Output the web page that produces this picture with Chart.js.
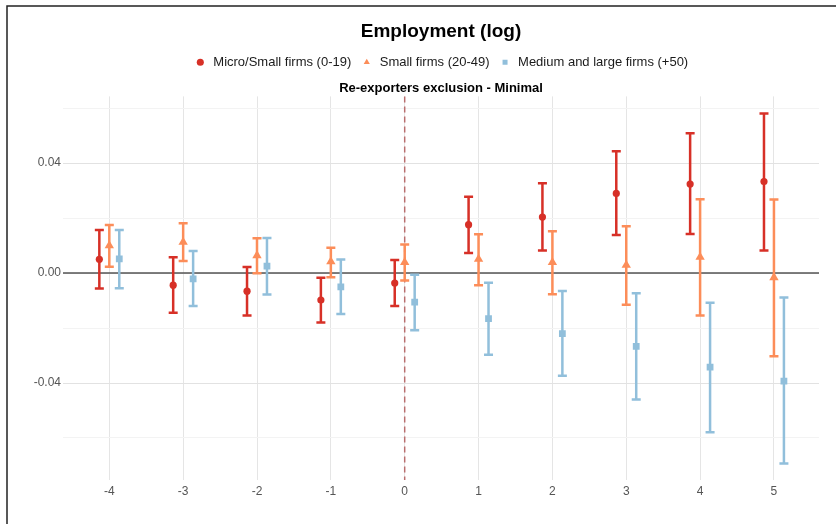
<!DOCTYPE html>
<html>
<head>
<meta charset="utf-8">
<title>Employment (log)</title>
<script src="https://cdn.jsdelivr.net/npm/chart.js@4.4.1/dist/chart.umd.min.js"></script>
<style>
  body { margin: 0; background: #fff; }
</style>
</head>
<body>
<canvas id="grafico" width="836" height="524"></canvas>
<script>
// Periodos relativos al evento y marcas del eje Y
const periods = [-4, -3, -2, -1, 0, 1, 2, 3, 4, 5];
const yTicks = [-0.06, -0.04, -0.02, 0, 0.02, 0.04, 0.06];

// Micro/Small firms (0-19): estimación e intervalo de confianza
const microEst = [0.0050, -0.0044, -0.0066, -0.0098, -0.0036, 0.0176, 0.0204, 0.0290, 0.0324, 0.0333];
const microLo  = [-0.0056, -0.0144, -0.0154, -0.0180, -0.0120, 0.0073, 0.0082, 0.0139, 0.0142, 0.0082];
const microHi  = [0.0157, 0.0058, 0.0022, -0.0017, 0.0048, 0.0278, 0.0327, 0.0443, 0.0509, 0.0581];

// Small firms (20-49)
const smallEst = [0.0100, 0.0113, 0.0064, 0.0042, 0.0039, 0.0051, 0.0039, 0.0029, 0.0058, -0.0016];
const smallLo  = [0.0023, 0.0044, -0.0001, -0.0015, -0.0027, -0.0044, -0.0077, -0.0115, -0.0154, -0.0303];
const smallHi  = [0.0175, 0.0181, 0.0127, 0.0092, 0.0104, 0.0141, 0.0152, 0.0170, 0.0269, 0.0268];

// Medium and large firms (+50)
const largeEst = [0.0052, -0.0021, 0.0025, -0.0050, -0.0106, -0.0166, -0.0220, -0.0267, -0.0342, -0.0393];
const largeLo  = [-0.0055, -0.0120, -0.0078, -0.0149, -0.0208, -0.0297, -0.0374, -0.0460, -0.0579, -0.0693];
const largeHi  = [0.0157, 0.0080, 0.0128, 0.0049, -0.0006, -0.0035, -0.0065, -0.0073, -0.0108, -0.0089];

// separación horizontal entre grupos (dodge)
const DODGE = 0.135;

Chart.defaults.font.family = '"Liberation Sans", Arial, sans-serif';

function puntos(est, lo, hi, offset) {
  return periods.map((p, i) => ({ x: p + offset, y: est[i], lo: lo[i], hi: hi[i] }));
}

const isMajor = v => Math.abs(Math.round(v / 0.02)) % 2 === 0;

/* Fondo blanco y marco negro arriba/izquierda */
const marco = {
  id: 'marco',
  beforeDraw(chart) {
    const { ctx, width, height } = chart;
    ctx.save();
    ctx.fillStyle = '#fff';
    ctx.fillRect(0, 0, width, height);
    ctx.strokeStyle = '#222';
    ctx.lineWidth = 1.5;
    ctx.beginPath();
    ctx.moveTo(7, height);
    ctx.lineTo(7, 6);
    ctx.lineTo(width, 6);
    ctx.stroke();
    ctx.restore();
  }
};

/* Línea horizontal en cero y línea vertical punteada en el periodo 0 */
const referencias = {
  id: 'referencias',
  beforeDatasetsDraw(chart) {
    const { ctx, chartArea: a, scales: { x, y } } = chart;
    const y0 = y.getPixelForValue(0);
    const x0 = x.getPixelForValue(0);
    ctx.save();
    ctx.strokeStyle = '#555';
    ctx.lineWidth = 1.5;
    ctx.beginPath();
    ctx.moveTo(a.left, y0);
    ctx.lineTo(a.right, y0);
    ctx.stroke();
    ctx.strokeStyle = 'rgba(170, 70, 70, 0.75)';
    ctx.setLineDash([6, 4]);
    ctx.beginPath();
    ctx.moveTo(x0, a.top);
    ctx.lineTo(x0, a.bottom);
    ctx.stroke();
    ctx.restore();
  }
};

/* Barras de error con sus topes, desde lo hasta hi */
const barrasError = {
  id: 'barrasError',
  beforeDatasetsDraw(chart) {
    const { ctx, scales: { y } } = chart;
    chart.data.datasets.forEach((ds, di) => {
      const meta = chart.getDatasetMeta(di);
      ctx.save();
      ctx.strokeStyle = ds.borderColor;
      ctx.lineWidth = 2.5;
      meta.data.forEach((pt, i) => {
        const d = ds.data[i];
        const top = y.getPixelForValue(d.hi);
        const bot = y.getPixelForValue(d.lo);
        ctx.beginPath();
        ctx.moveTo(pt.x, top); ctx.lineTo(pt.x, bot);
        ctx.moveTo(pt.x - 4.5, top); ctx.lineTo(pt.x + 4.5, top);
        ctx.moveTo(pt.x - 4.5, bot); ctx.lineTo(pt.x + 4.5, bot);
        ctx.stroke();
      });
      ctx.restore();
    });
  }
};

new Chart(document.getElementById('grafico'), {
  type: 'scatter',
  data: {
    datasets: [
      {
        label: 'Micro/Small firms (0-19)',
        data: puntos(microEst, microLo, microHi, -DODGE),
        pointStyle: 'circle',
        pointRadius: 3.6,
        backgroundColor: '#d73027',
        borderColor: '#d73027',
        borderWidth: 0
      },
      {
        label: 'Small firms (20-49)',
        data: puntos(smallEst, smallLo, smallHi, 0),
        pointStyle: 'triangle',
        pointRadius: 5.4,
        backgroundColor: '#fc8d59',
        borderColor: '#fc8d59',
        borderWidth: 0
      },
      {
        label: 'Medium and large firms (+50)',
        data: puntos(largeEst, largeLo, largeHi, DODGE),
        pointStyle: 'rect',
        pointRadius: 4.8,
        backgroundColor: '#91bfdb',
        borderColor: '#91bfdb',
        borderWidth: 0
      }
    ]
  },
  options: {
    responsive: false,
    animation: false,
    layout: { padding: { left: 8, right: 17, top: 0, bottom: 0 } },
    scales: {
      x: {
        type: 'linear',
        min: -4.627,
        max: 5.61,
        afterBuildTicks: s => { s.ticks = periods.map(v => ({ value: v })); },
        afterFit: s => { s.height = 44; },
        border: { display: false },
        grid: { color: '#e5e5e5', drawTicks: false },
        ticks: { padding: 4, color: '#555', font: { size: 12 }, autoSkip: false, maxRotation: 0, callback: v => String(v) }
      },
      y: {
        min: -0.0753,
        max: 0.0643,
        afterBuildTicks: s => { s.ticks = yTicks.map(v => ({ value: v })); },
        afterFit: s => { s.width = 55; },
        border: { display: false },
        grid: { color: c => isMajor(c.tick.value) ? '#e2e2e2' : '#f3f3f3', drawTicks: false },
        ticks: { padding: 2, color: '#555', font: { size: 12 }, callback: v => isMajor(v) ? v.toFixed(2) : '' }
      }
    },
    plugins: {
      title: {
        display: true,
        text: 'Employment (log)',
        fullSize: false,
        color: '#000',
        font: { size: 19, weight: 'bold' },
        padding: { top: 20, bottom: 4 }
      },
      legend: {
        display: true,
        position: 'top',
        fullSize: false,
        labels: { usePointStyle: true, boxWidth: 13, boxHeight: 5, padding: 9, color: '#1a1a1a', font: { size: 13 } }
      },
      subtitle: {
        display: true,
        text: 'Re-exporters exclusion - Minimal',
        fullSize: false,
        weight: 900,
        color: '#000',
        font: { size: 13, weight: 'bold' },
        padding: { top: 2, bottom: 0 }
      },
      tooltip: { enabled: false }
    }
  },
  plugins: [marco, referencias, barrasError]
});
</script>
</body>
</html>
